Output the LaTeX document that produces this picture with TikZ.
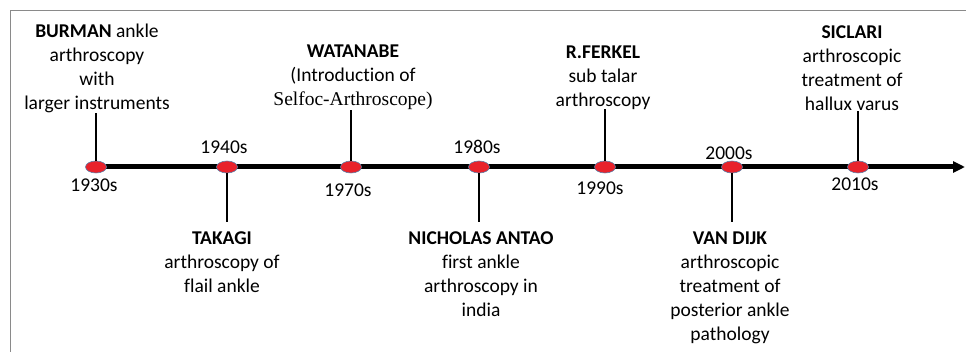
\documentclass[tikz,border=0pt]{standalone}
\usepackage{fontspec}
\setmainfont{Carlito}[Ligatures=NoCommon]
\newfontfamily\selfocfont{Liberation Serif}
\usepackage{tikz}
\usetikzlibrary{arrows.meta,shapes.geometric}
\usepackage{xcolor}
\definecolor{dotred}{HTML}{E8222B}
\definecolor{dotrim}{HTML}{5A7FA8}
\definecolor{framegray}{HTML}{8A8A8A}

\begin{document}
\begin{tikzpicture}[x=1pt, y=-1pt,
  dot/.style={ellipse, fill=dotred, draw=dotrim, line width=0.6pt,
              minimum width=21pt, minimum height=12pt, inner sep=0pt},
  yr/.style={font=\fontsize{19.5}{24}\selectfont, inner sep=0pt},
  evup/.style={font=\fontsize{19.5}{24}\selectfont, align=center,
               anchor=south, inner sep=0pt},
  evdown/.style={font=\fontsize{19.5}{24}\selectfont, align=center,
                 anchor=north, inner xsep=0pt, inner ysep=9pt},
  axis/.style={-{Triangle[length=12pt, width=11pt]}, line width=5pt, black},
  stem/.style={line width=1.6pt, black}]
  \useasboundingbox (0,0) rectangle (966,352);
  \draw[framegray, line width=1pt] (10,352) -- (10,11) -- (966,11);
  % timeline
  \coordinate (start) at (96,167);
  \coordinate (tip) at (965,167);
  \draw[axis] (start) -- (tip);
  \node[dot] (d30) at (96,167) {};
  \node[dot] (d40) at (227,167) {};
  \node[dot] (d70) at (351,167) {};
  \node[dot] (d80) at (479,167) {};
  \node[dot] (d90) at (605,167) {};
  \node[dot] (d00) at (732,167) {};
  \node[dot] (d10) at (858,167) {};
  % decades
  \node[yr] (y30) at (94,185) {1930s};
  \node[yr] (y40) at (224,147) {1940s};
  \node[yr] (y70) at (348,190) {1970s};
  \node[yr] (y80) at (477,147) {1980s};
  \node[yr] (y90) at (600,188) {1990s};
  \node[yr] (y00) at (729,153) {2000s};
  \node[yr] (y10) at (855,184) {2010s};
  % events above
  \node[evup] (burman) at (97,113) {\textbf{BURMAN} ankle\\arthroscopy\\with\\larger instruments};
  \node[evup] (watanabe) at (353,110) {\textbf{WATANABE}\\(Introduction of\\{\selfocfont Selfoc-Arthroscope)}};
  \node[evup] (ferkel) at (603,109.5) {\textbf{R.FERKEL}\\sub talar\\arthroscopy};
  \node[evup] (siclari) at (852,111) {\textbf{SICLARI}\\arthroscopic\\treatment of\\hallux varus};
  % events below
  \node[evdown] (takagi) at (222,222.5) {\textbf{TAKAGI}\\arthroscopy of\\flail ankle};
  \node[evdown] (antao) at (481,222.5) {\textbf{NICHOLAS ANTAO}\\first ankle\\arthroscopy in\\india};
  \node[evdown] (vandijk) at (730,222.5) {\textbf{VAN DIJK}\\arthroscopic\\treatment of\\posterior ankle\\pathology};
  % stems
  \draw[stem] (d30) -- (d30 |- burman.south);
  \draw[stem] (d70) -- (d70 |- watanabe.south);
  \draw[stem] (d90) -- (d90 |- ferkel.south);
  \draw[stem] (d10) -- (d10 |- siclari.south);
  \draw[stem] (d40) -- (d40 |- takagi.north);
  \draw[stem] (d80) -- (d80 |- antao.north);
  \draw[stem] (d00) -- (d00 |- vandijk.north);
\end{tikzpicture}
\end{document}
